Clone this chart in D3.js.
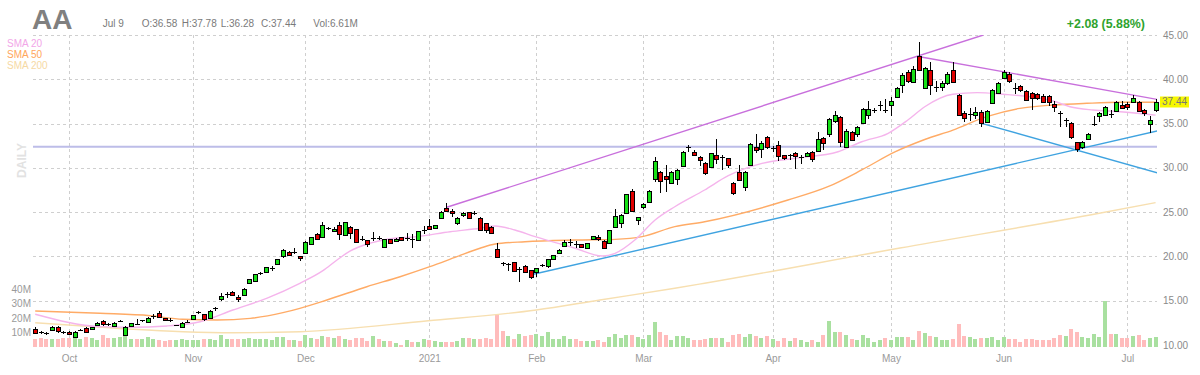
<!DOCTYPE html>
<html><head><meta charset="utf-8">
<script src="https://cdn.jsdelivr.net/npm/d3@7"></script>
<style>html,body{margin:0;padding:0;background:#fff;}svg{display:block;font-family:"Liberation Sans",Arial,sans-serif;}</style>
</head><body>
<svg id="chart" width="1200" height="375"></svg>
<script>
// ---------------- DATA ----------------
const ticker = "AA";
const startDate = "2020-09-23", endDate = "2021-07-09";
const holidays = ["2020-11-26","2020-12-25","2021-01-01","2021-01-18","2021-02-15","2021-04-02","2021-05-31","2021-07-05"];

const openP = [11.77,11.45,11.35,11.66,12.00,11.45,11.47,10.87,11.65,11.88,11.77,12.22,12.67,12.35,12.20,12.62,11.16,12.15,12.42,12.70,
12.60,13.25,13.58,13.00,12.85,12.25,12.00,12.60,12.90,13.60,13.47,13.00,14.15,15.15,15.70,16.00,15.40,15.65,17.03,17.22,
18.05,18.20,18.60,19.15,20.05,20.47,20.45,20.08,20.39,21.40,22.53,22.16,23.20,22.84,23.51,22.42,23.28,23.10,22.00,21.82,
22.00,22.05,21.10,21.93,21.70,22.16,22.05,22.00,21.85,22.95,23.43,23.17,24.31,25.43,25.16,23.74,24.65,24.98,24.90,24.37,
23.74,23.32,20.80,19.25,19.15,19.37,18.50,18.92,18.43,18.24,18.95,18.92,19.74,20.42,21.18,21.50,21.45,21.37,20.95,21.93,
22.23,21.74,21.48,23.29,23.74,24.94,27.35,24.11,25.55,26.11,28.78,29.57,29.08,28.26,28.78,30.21,32.20,31.76,31.19,30.59,
30.13,31.42,31.10,31.08,28.26,29.50,27.87,30.32,32.39,32.09,33.52,32.10,32.58,31.45,31.30,31.68,31.20,31.37,31.79,31.87,
33.37,33.82,35.33,35.78,32.39,34.08,33.82,35.03,35.97,36.50,37.00,36.55,37.06,38.03,39.32,40.79,39.73,42.66,38.98,41.05,
39.10,39.10,39.55,41.05,38.23,36.23,36.00,35.97,36.34,35.21,37.29,38.42,40.11,40.60,39.05,39.28,38.68,38.42,38.34,38.15,
38.11,37.17,36.20,35.30,35.10,32.89,32.32,33.22,34.90,35.89,35.97,36.10,36.45,37.13,37.25,37.47,37.40,36.53,34.92,36.58];
const highP = [12.00,11.60,11.50,12.10,12.10,11.60,11.60,11.55,11.85,12.05,12.05,12.60,12.80,12.50,12.55,12.85,12.20,12.50,12.93,12.85,
13.15,13.55,13.85,13.05,13.00,12.30,12.55,12.80,13.40,13.85,13.50,13.95,14.30,15.90,16.00,16.10,15.60,16.40,17.50,18.05,
18.20,18.85,18.90,19.75,20.80,20.60,20.90,20.10,21.70,22.20,22.60,23.90,23.30,23.30,23.90,23.90,23.40,23.15,22.30,21.90,
22.80,22.30,22.00,22.00,22.10,22.20,22.70,22.50,22.90,23.40,24.19,23.60,25.10,26.00,25.30,24.50,25.05,25.00,25.10,24.40,
23.80,23.40,21.48,19.40,19.30,19.40,18.80,19.00,18.50,18.70,19.20,19.75,20.20,20.85,21.80,22.00,21.75,21.40,21.50,22.35,
22.45,21.80,23.00,25.32,24.80,27.10,27.65,24.50,26.00,27.50,31.19,29.70,30.28,29.70,29.90,31.90,32.60,32.00,31.30,30.70,
31.70,33.29,31.50,31.10,28.40,30.32,29.60,32.80,33.79,33.00,33.60,32.50,33.00,31.50,31.60,31.80,31.50,31.80,31.90,34.08,
33.50,35.60,36.45,35.90,34.40,34.20,34.70,36.80,37.55,36.80,37.50,37.80,38.00,39.10,40.70,41.00,41.50,44.24,41.40,41.99,
39.80,39.80,40.80,41.90,38.30,36.40,36.80,36.90,36.50,36.50,38.90,39.70,41.00,40.80,39.55,39.40,38.80,38.60,38.50,38.30,
38.20,37.60,36.40,35.60,35.20,32.95,33.00,33.90,35.90,36.35,37.00,36.50,37.50,37.50,37.40,38.20,37.50,36.60,35.90,37.78];
const lowP = [11.20,11.25,11.15,11.60,11.40,11.20,11.10,10.80,11.55,11.35,11.75,12.15,12.20,12.15,12.15,12.55,11.00,12.05,12.38,12.62,
12.55,12.95,13.15,12.70,12.60,12.20,11.95,12.45,12.85,13.45,12.70,12.95,13.80,15.00,15.35,15.60,14.90,15.60,16.90,17.15,
17.90,18.10,18.40,19.10,19.80,20.10,20.30,19.50,20.30,21.30,21.90,22.10,23.00,22.80,21.90,22.40,22.00,21.50,21.70,21.10,
21.70,21.80,21.00,21.40,21.65,21.70,21.70,20.90,21.80,22.50,23.00,23.10,24.20,25.00,24.49,23.60,24.50,24.30,24.70,22.90,
22.70,22.50,19.85,18.90,18.30,18.35,17.10,18.10,17.49,17.64,18.80,18.75,19.70,20.35,21.10,21.20,20.95,20.95,20.90,21.90,
21.70,20.95,21.40,23.20,23.20,24.90,25.00,23.51,25.40,26.00,28.44,27.20,27.27,28.20,28.03,30.10,31.80,31.30,30.21,29.19,
30.00,30.40,29.80,30.00,26.97,28.50,27.42,30.20,31.70,31.15,32.10,31.80,30.80,30.90,30.90,29.90,30.40,31.30,30.70,31.80,
32.00,33.50,35.10,32.32,32.20,33.00,33.50,34.90,35.50,36.20,36.40,36.20,35.90,37.90,38.49,39.60,39.60,40.90,38.90,38.23,
38.60,38.70,39.30,39.60,35.80,35.21,35.30,35.50,34.60,35.10,37.20,38.30,40.00,39.60,38.30,38.60,37.60,36.53,37.70,37.30,
37.00,36.34,34.65,34.60,33.30,31.83,32.10,33.10,34.70,35.20,35.90,35.60,36.30,36.60,36.50,37.30,36.30,35.80,33.97,36.28];
const closeP = [11.39,11.40,11.30,12.03,11.55,11.40,11.20,11.50,11.72,11.43,12.00,12.52,12.40,12.30,12.48,12.70,12.07,12.45,12.40,12.78,
13.00,13.30,13.20,12.82,12.80,12.27,12.52,12.65,13.35,13.70,12.94,13.84,14.20,15.53,15.78,15.65,15.25,16.36,17.45,17.98,
18.10,18.77,18.70,19.67,20.69,20.20,20.50,19.79,21.60,22.16,21.93,23.51,23.15,23.13,22.53,23.85,22.68,21.60,21.95,21.40,
22.10,21.95,21.93,21.48,22.00,21.85,22.10,21.95,22.84,23.00,23.06,23.55,24.98,25.10,24.87,24.37,24.94,24.37,24.95,22.98,
22.98,22.61,19.90,19.20,19.18,18.39,18.55,18.24,17.71,18.66,19.05,19.67,20.12,20.76,21.63,21.60,21.40,21.03,21.48,22.27,
21.93,20.99,22.98,24.56,24.68,27.05,25.16,24.41,25.89,27.42,30.74,28.49,28.78,29.50,29.76,31.79,32.30,31.42,30.85,29.46,
31.64,31.04,31.20,30.29,27.20,28.63,29.50,32.66,31.98,32.84,32.36,32.20,31.37,31.11,31.40,31.37,31.25,31.68,31.04,33.22,
32.84,35.48,35.97,32.89,34.16,33.15,34.58,36.68,36.68,36.55,37.05,36.50,37.55,38.98,40.49,39.84,41.16,41.05,41.24,39.36,
39.15,39.55,40.56,39.73,35.97,35.66,36.05,36.27,35.03,36.42,38.79,39.55,40.86,39.84,38.95,38.76,37.66,37.85,37.92,37.44,
37.40,36.84,36.10,35.35,33.52,32.10,32.95,33.82,35.00,36.23,36.84,36.00,37.40,36.76,36.91,37.85,36.42,36.16,35.36,37.44];
// volume in millions
const volumeM = [5.1,6.1,5.6,5.6,5.6,5.8,6.1,5.8,5.6,7.0,6.1,4.4,8.4,6.1,6.1,6.8,9.1,5.6,5.1,5.6,
6.8,5.6,4.9,3.7,4.4,4.9,5.1,4.9,4.4,4.4,5.1,5.6,4.4,7.9,5.1,5.6,5.6,5.6,6.3,5.6,
5.1,5.6,4.4,6.8,6.8,4.9,4.4,4.2,8.2,5.8,5.4,7.7,6.5,6.1,7.2,5.4,4.9,5.8,5.8,4.2,
7.2,5.4,4.0,4.0,2.6,1.4,4.7,3.5,3.5,5.4,4.7,4.2,3.0,3.0,3.5,4.2,5.8,5.8,5.4,5.6,
6.0,5.6,22.1,11.0,7.7,5.4,9.1,7.7,8.4,9.1,7.2,10.5,5.4,5.4,7.7,5.4,5.4,4.2,3.7,4.2,
4.5,3.5,7.0,9.1,5.8,8.4,8.4,6.5,5.4,8.4,17.0,10.5,8.2,4.7,7.2,7.7,5.8,4.7,4.7,5.1,
6.3,6.3,6.3,3.5,8.4,9.1,6.5,9.1,7.7,5.8,7.2,5.4,4.0,5.8,3.7,5.8,4.4,3.5,4.4,3.5,
8.2,17.7,10.0,10.5,8.2,5.4,4.7,7.9,5.8,3.5,4.4,5.8,4.9,6.5,7.0,7.0,4.4,11.2,9.3,7.7,
6.5,4.7,4.7,5.4,15.8,7.2,6.8,5.1,5.8,5.8,6.5,4.4,7.0,5.4,5.4,3.5,5.4,5.4,4.9,4.4,
4.9,6.1,8.4,7.2,12.3,10.0,6.5,6.1,9.1,6.5,32.2,8.6,8.6,5.8,5.8,7.2,8.4,4.7,6.1,6.61];

// moving averages: [bar index, value]
const sma20 = [[0,13.47],[11.5,12.07],[16.8,12.0],[23.4,12.15],[29.3,12.63],[35.1,13.95],[41.2,15.3],[47,16.97],[51.1,18.4],[53.6,19.6],[55.9,20.6],[59.5,21.5],[63,22.0],[67.8,22.23],[73.7,22.79],[79,23.18],[81.7,23.44],[85.2,22.98],[88.8,22.23],[92.9,21.48],[95.9,20.92],[100.7,20.05],[103,20.35],[106.5,21.85],[110.1,24.11],[113.6,25.61],[118.9,27.5],[123.1,29.11],[129.1,30.51],[135,31.08],[142.6,31.82],[146.8,32.95],[151.5,33.9],[155,35.4],[158,36.9],[163,38.31],[167.3,38.49],[171.9,38.31],[176.7,38.03],[180.8,37.55],[183.8,36.9],[187.9,36.53],[192.7,36.34],[199,35.95]];
const sma50 = [[0,13.84],[11.5,13.58],[20.4,13.31],[26.2,12.9],[32.3,12.82],[38.2,13.01],[44,13.65],[47,14.14],[51.8,15.08],[58.9,16.58],[64.8,17.71],[70.1,18.84],[74.9,19.97],[79,20.92],[81.7,21.4],[87,21.66],[95.9,21.85],[103,21.93],[107.8,22.23],[113.6,23.36],[118.9,23.92],[133.7,26.37],[140.8,27.87],[146.8,29.76],[152.7,31.8],[158,33.2],[163,34.27],[169,35.78],[174.9,36.72],[180.8,37.1],[186.8,37.29],[192.7,37.4],[199,37.4]];
const sma200 = [[0,12.52],[8.5,12.15],[17.4,11.77],[26.3,11.5],[35.2,11.39],[47,11.5],[69.8,12.74],[89,13.95],[100.3,15.08],[113.6,16.4],[118.9,16.97],[153.6,20.95],[189,24.87],[199,26.07]];

// drawn trend lines: [bar index, price]
const trendUpper  = [[73.1,25.55],[168.4,45.0]];
const trendDown   = [[157.1,42.55],[199.5,37.7]];
const trendSupport= [[87.9,17.9],[199.5,34.2]];
const trendDown2  = [[168.1,35.03],[199.5,29.4]];
const levelLine = 32.39;

const priceTicks = [15,20,25,30,35,40,45];
const volumeTicks = [10,20,30,40];
const smaLegend = ["SMA 20","SMA 50","SMA 200"];

// ---------------- BUILD ----------------
function tradingDays(start, end, hol) {
  const out = [];
  const d = new Date(start + "T12:00:00Z"), e = new Date(end + "T12:00:00Z");
  while (d <= e) {
    const wd = d.getUTCDay(), s = d.toISOString().slice(0,10);
    if (wd !== 0 && wd !== 6 && !hol.includes(s)) out.push(s);
    d.setUTCDate(d.getUTCDate() + 1);
  }
  return out;
}
const dates = tradingDays(startDate, endDate, holidays);
const N = dates.length;
const bars = dates.map((d,i)=>({date:d,i,o:openP[i],h:highP[i],l:lowP[i],c:closeP[i],v:volumeM[i]}));

const svg = d3.select("#chart");
const x = d3.scaleLinear().domain([-0.5, N - 0.5]).range([32.4, 1158.4]);
const y = d3.scaleLinear().domain([10, 45]).range([345, 35]);
const yv = d3.scaleLinear().domain([0, 40]).range([346.5, 289.5]);
const plotL = 33, plotR = 1157;

const colGreen = "#16e016", colRed = "#e00000";
const gridCol = "#cfcfcf";

// month ticks
const monthIdx = [];
dates.forEach((d,i)=>{ if (i>0 && d.slice(5,7)!==dates[i-1].slice(5,7)) monthIdx.push(i); });
const parse = d3.utcParse("%Y-%m-%d");
const monthLabel = i => { const dt = parse(dates[i]); return dt.getUTCMonth()===0 ? d3.utcFormat("%Y")(dt) : d3.utcFormat("%b")(dt); };

// grid
const g = svg.append("g");
g.selectAll("line.hg").data(priceTicks).join("line")
  .attr("x1", plotL).attr("x2", plotR)
  .attr("y1", d=>Math.round(y(d))+0.5).attr("y2", d=>Math.round(y(d))+0.5)
  .attr("stroke", gridCol).attr("stroke-dasharray","3,3").attr("stroke-width",1);
g.selectAll("line.vg").data(monthIdx).join("line")
  .attr("x1", d=>Math.round(x(d))+0.5).attr("x2", d=>Math.round(x(d))+0.5)
  .attr("y1", y(45)).attr("y2", 348)
  .attr("stroke", gridCol).attr("stroke-dasharray","3,3").attr("stroke-width",1);

// volume bars
svg.append("g").selectAll("rect").data(bars).join("rect")
  .attr("x", d=>Math.round(x(d.i))-2).attr("width",4)
  .attr("y", d=>Math.round(yv(d.v))).attr("height", d=>Math.round(yv(0))-Math.round(yv(d.v)))
  .attr("fill", d=> d.c >= d.o ? "#a9e0a0" : "#ffbcbc");

// horizontal level line
svg.append("line").attr("x1", plotL).attr("x2", plotR)
  .attr("y1", y(levelLine)).attr("y2", y(levelLine))
  .attr("stroke", "#bdbde8").attr("stroke-width", 2);

// SMAs
const smaLine = d3.line().x(d=>x(d[0])).y(d=>y(d[1])).curve(d3.curveMonotoneX);
const smaDefs = [[sma200,"#f7dfb0"],[sma50,"#ffab66"],[sma20,"#f5b4ec"]];
smaDefs.forEach(([data,col])=>{
  svg.append("path").attr("d", smaLine(data)).attr("fill","none").attr("stroke",col).attr("stroke-width",1.4);
});

// trend lines
svg.append("clipPath").attr("id","pc").append("rect").attr("x",plotL).attr("y",y(45)).attr("width",plotR-plotL).attr("height",y(10)-y(45));
const tl = d3.line().x(d=>x(d[0])).y(d=>y(d[1]));
[[trendUpper,"#c86fdc"],[trendDown,"#c86fdc"],[trendSupport,"#3fa3e0"],[trendDown2,"#3fa3e0"]].forEach(([data,col])=>{
  svg.append("path").attr("d", tl(data)).attr("fill","none").attr("stroke",col).attr("stroke-width",1.4).attr("clip-path","url(#pc)");
});

// candles
const cg = svg.append("g");
bars.forEach(d=>{
  const cx = Math.round(x(d.i));
  cg.append("line").attr("x1",cx+0.5).attr("x2",cx+0.5)
    .attr("y1",Math.round(y(d.h))).attr("y2",Math.round(y(d.l)))
    .attr("stroke","#000").attr("stroke-width",1);
  const top = Math.round(y(Math.max(d.o,d.c))), bot = Math.round(y(Math.min(d.o,d.c)));
  if (bot - top < 2) {
    cg.append("line").attr("x1",cx-2).attr("x2",cx+3)
      .attr("y1",top+0.5).attr("y2",top+0.5).attr("stroke","#000").attr("stroke-width",1);
  } else {
    cg.append("rect").attr("x",cx-1.5).attr("y",top+0.5).attr("width",4).attr("height",bot-top)
      .attr("fill", d.c>=d.o ? colGreen : colRed).attr("stroke","#000").attr("stroke-width",1);
  }
});

// right price axis labels
svg.append("g").selectAll("text").data(priceTicks.concat([10])).join("text")
  .attr("x", 1163).attr("y", d=>y(d)+3.5)
  .attr("font-size", 10).attr("fill", "#8a8a8a").text(d=>d3.format(".2f")(d));

// last price label
const last = bars[N-1], prev = bars[N-2];
svg.append("rect").attr("x",1160).attr("y",Math.round(y(last.c))-5.5).attr("width",29).attr("height",11).attr("fill","#f7f700");
svg.append("text").attr("x",1162).attr("y",y(last.c)+3.5).attr("font-size",10).attr("fill","#777").text(d3.format(".2f")(last.c));

// volume axis labels
svg.append("g").selectAll("text").data(volumeTicks).join("text")
  .attr("x", 31).attr("y", d=>yv(d)+3.5).attr("text-anchor","end")
  .attr("font-size",10).attr("fill","#9a9a9a").text(d=>d+"M");

// month labels
svg.append("g").selectAll("text").data(monthIdx).join("text")
  .attr("x", d=>x(d)+0.5).attr("y", 361.5).attr("text-anchor","middle")
  .attr("font-size",10).attr("fill","#9a9a9a").text(d=>monthLabel(d));

// header
svg.append("text").attr("x",32).attr("y",28.5).attr("font-size",28).attr("font-weight","bold").attr("fill","#808080").text(ticker);
const f2 = d3.format(".2f");
const hdr = [[102.7, d3.utcFormat("%b %-d")(parse(last.date))],[141.7,"O:"+f2(last.o)],[181.7,"H:"+f2(last.h)],[220.7,"L:"+f2(last.l)],[261,"C:"+f2(last.c)],[313.3,"Vol:"+f2(last.v)+"M"]];
svg.append("g").selectAll("text").data(hdr).join("text")
  .attr("x",d=>d[0]).attr("y",27.3).attr("font-size",10).attr("fill","#7a7a7a").text(d=>d[1]);
const chg = last.c - prev.c;
svg.append("text").attr("x",1145).attr("y",28).attr("text-anchor","end").attr("font-size",12.4).attr("font-weight","bold")
  .attr("fill","#2fa32f").text((chg>=0?"+":"")+f2(chg)+" ("+f2(chg/prev.c*100)+"%)");

// legend
const legCols = ["#f2a6e8","#ffa65c","#f6d9a4"];
svg.append("g").selectAll("text").data(smaLegend).join("text")
  .attr("x",7).attr("y",(d,i)=>46.5+i*11).attr("font-size",10).attr("fill",(d,i)=>legCols[i]).text(d=>d);

// DAILY
svg.append("text").attr("transform","translate(25.5,160.5) rotate(-90)").attr("text-anchor","middle")
  .attr("font-size",12).attr("font-weight","bold").attr("fill","#e2e2e2").text("DAILY");
</script>
</body></html>
